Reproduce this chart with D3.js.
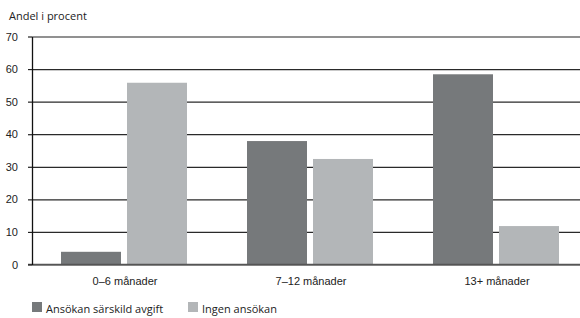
<!DOCTYPE html>
<html>
<head>
<meta charset="utf-8">
<script src="https://cdn.jsdelivr.net/npm/d3@7"></script>
<style>
body { margin: 0; background: #fff; }
svg { display: block; font-family: "Open Sans", sans-serif; }
.axis text { font-size: 11px; fill: #222; }
</style>
</head>
<body>
<svg id="chart"></svg>
<script>
var categories = ["0–6 månader", "7–12 månader", "13+ månader"];
var seriesNames = ["Ansökan särskild avgift", "Ingen ansökan"];
var avgiftValues = [3.9, 37.9, 58.4];
var ingenValues = [55.8, 32.4, 11.8];
var yTicks = [0, 10, 20, 30, 40, 50, 60, 70];
var colors = ["#76797b", "#b3b6b8"];

var width = 580;
var height = 318;

var svg = d3.select("#chart")
    .attr("width", width)
    .attr("height", height);

var x0 = d3.scaleBand()
    .domain(categories)
    .range([32, 590]);
var x1 = d3.scaleBand()
    .domain(seriesNames)
    .range([29, 155])
    .paddingInner(6 / 66);
var yScale = d3.scaleLinear()
    .domain([0, 70])
    .range([264.5, 36.5]);

// gridlines
var grid = svg.append("g")
    .attr("transform", "translate(32,0)")
    .call(d3.axisLeft(yScale).tickValues(yTicks).tickSize(-548).tickFormat(""));
grid.select(".domain").remove();
grid.selectAll("line")
    .attr("stroke", function (d) { return d === 70 ? "#6d6d6d" : "#2a2a2a"; })
    .attr("stroke-width", function (d) { return d === 70 ? 1.6 : 1.2; });

// bars
var rows = categories.map(function (c, i) {
    return { cat: c, vals: [avgiftValues[i], ingenValues[i]] };
});
svg.append("g")
    .selectAll("g")
    .data(rows)
    .enter()
    .append("g")
    .attr("transform", function (d) { return "translate(" + x0(d.cat) + ",0)"; })
    .selectAll("rect")
    .data(function (d) {
        return d.vals.map(function (v, j) { return { name: seriesNames[j], value: v, j: j }; });
    })
    .enter()
    .append("rect")
    .attr("x", function (d) { return x1(d.name); })
    .attr("width", x1.bandwidth())
    .attr("y", function (d) { return yScale(d.value); })
    .attr("height", function (d) { return yScale(0) - yScale(d.value); })
    .attr("fill", function (d) { return colors[d.j]; });

// zero line
svg.append("line")
    .attr("x1", 28).attr("x2", width)
    .attr("y1", yScale(0)).attr("y2", yScale(0))
    .attr("stroke", "#555")
    .attr("stroke-width", 1.4);

// y axis
var yAxis = svg.append("g")
    .attr("class", "axis")
    .attr("transform", "translate(32,0)")
    .call(d3.axisLeft(yScale).tickValues(yTicks).tickSize(4).tickSizeOuter(0).tickPadding(10));
yAxis.select(".domain").attr("stroke", "#111").attr("stroke-width", 1.3);
yAxis.selectAll("line").attr("stroke", "#222").attr("stroke-width", 1.2);

// x axis labels
var xAxis = svg.append("g")
    .attr("class", "axis")
    .attr("transform", "translate(0," + yScale(0) + ")")
    .call(d3.axisBottom(x0).tickSize(0).tickPadding(13));
xAxis.select(".domain").remove();

// title
svg.append("text")
    .attr("x", 9)
    .attr("y", 20)
    .attr("font-size", 11)
    .attr("fill", "#222")
    .text("Andel i procent");

// legend
var legendX = [32, 188];
var legend = svg.append("g")
    .selectAll("g")
    .data(seriesNames)
    .enter()
    .append("g")
    .attr("transform", function (d, i) { return "translate(" + legendX[i] + ",302)"; });
legend.append("rect")
    .attr("width", 10)
    .attr("height", 10)
    .attr("fill", function (d, i) { return colors[i]; });
legend.append("text")
    .attr("x", 14)
    .attr("y", 10.5)
    .attr("font-size", 11)
    .attr("fill", "#222")
    .text(function (d) { return d; });
</script>
</body>
</html>
